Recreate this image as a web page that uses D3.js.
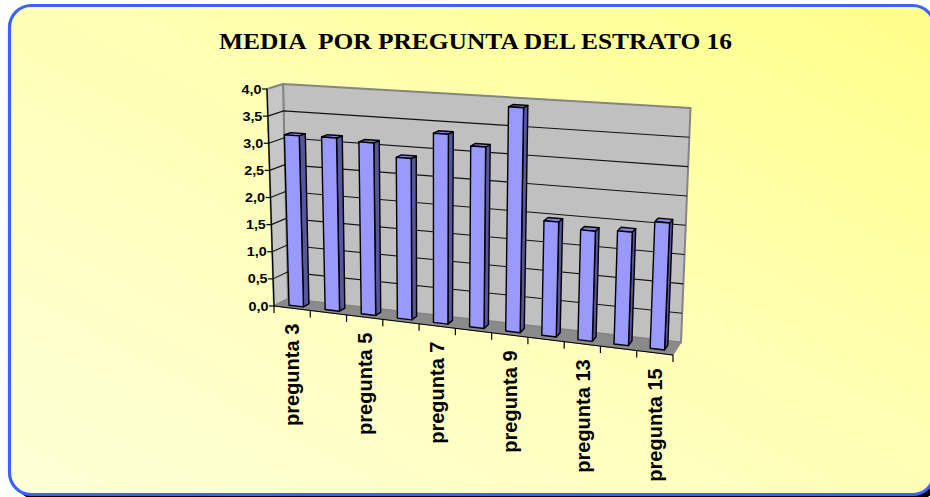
<!DOCTYPE html>
<html>
<head>
<meta charset="utf-8">
<script src="https://cdn.jsdelivr.net/npm/d3@7/dist/d3.min.js"></script>
<style>
  html, body { margin: 0; padding: 0; background: #ffffff; overflow: hidden; }
  svg { display: block; }
  .title { white-space: pre; }
</style>
</head>
<body>
<svg id="chart" width="930" height="497"></svg>
<script>
// Chart data
const title = "MEDIA  POR PREGUNTA DEL ESTRATO 16";
const categories = ["pregunta 3", "pregunta 4", "pregunta 5", "pregunta 6", "pregunta 7", "pregunta 8",
                    "pregunta 9", "pregunta 11", "pregunta 13", "pregunta 14", "pregunta 15"];
const values = [3.14, 3.15, 3.11, 2.88, 3.36, 3.18, 3.91, 1.98, 1.88, 1.92, 2.13];
const yTicks = [0, 0.5, 1, 1.5, 2, 2.5, 3, 3.5, 4];
const shownLabels = ["pregunta 3", "pregunta 5", "pregunta 7", "pregunta 9", "pregunta 13", "pregunta 15"];

const svg = d3.select("#chart");

// Background panel with drop shadow
const defs = svg.append("defs");
const grad = defs.append("linearGradient").attr("id", "bg")
  .attr("x1", "0").attr("y1", "1").attr("x2", "1").attr("y2", "0");
grad.append("stop").attr("offset", "0").attr("stop-color", "#ffffd8");
grad.append("stop").attr("offset", "0.55").attr("stop-color", "#ffffb4");
grad.append("stop").attr("offset", "1").attr("stop-color", "#ffff8a");

svg.append("rect").attr("x", 14.5).attr("y", 10.5).attr("width", 925).attr("height", 489)
  .attr("rx", 22).attr("fill", "#000");
svg.append("rect").attr("x", 9.5).attr("y", 5.5).attr("width", 925).attr("height", 489)
  .attr("rx", 22).attr("fill", "url(#bg)").attr("stroke", "#3b62ff").attr("stroke-width", 3.2);

svg.append("text")
  .attr("class", "title")
  .attr("x", 475.5).attr("y", 48.5)
  .attr("text-anchor", "middle")
  .attr("font-family", "Liberation Serif, DejaVu Serif, serif")
  .attr("font-weight", "bold")
  .attr("font-size", 22.5)
  .attr("textLength", 513).attr("lengthAdjust", "spacingAndGlyphs")
  .attr("fill", "#000")
  .text(title);

// Plot box corners on screen: front plane (depth 0) and back plane (depth 1)
const box = {
  fBL: [274, 306], fBR: [673, 355], fTL: [267, 89], fTR: [683, 114],
  bBL: [288, 299], bBR: [681, 342.5], bTL: [283, 84], bTR: [690.5, 108]
};
const lerp = (a, b, t) => [a[0] + (b[0] - a[0]) * t, a[1] + (b[1] - a[1]) * t];
// u: along categories [0,1], t: along values [0,1], w: depth [0,1]
function project(u, t, w) {
  const front = lerp(lerp(box.fBL, box.fBR, u), lerp(box.fTL, box.fTR, u), t);
  const back = lerp(lerp(box.bBL, box.bBR, u), lerp(box.bTL, box.bTR, u), t);
  return lerp(front, back, w);
}

const x = d3.scaleBand().domain(categories).range([0, 1]).paddingInner(0.6).paddingOuter(0.3);
const y = d3.scaleLinear().domain([0, 4]).range([0, 1]);
const fmt = d3.formatLocale({ decimal: ",", thousands: ".", grouping: [3], currency: ["", "€"] }).format(".1f");

const poly = pts => "M" + pts.map(p => p[0].toFixed(2) + "," + p[1].toFixed(2)).join("L") + "Z";
const g = svg.append("g");

// Walls and floor
g.append("path").attr("d", poly([project(0, 0, 1), project(1, 0, 1), project(1, 1, 1), project(0, 1, 1)]))
  .attr("fill", "#c0c0c0").attr("stroke", "#858585").attr("stroke-width", 2).attr("stroke-linejoin", "round");
g.append("path").attr("d", poly([project(0, 0, 0), project(0, 0, 1), project(0, 1, 1), project(0, 1, 0)]))
  .attr("fill", "#c6c6c6").attr("stroke", "#858585").attr("stroke-width", 2).attr("stroke-linejoin", "round");
g.append("path").attr("d", poly([project(0, 0, 0), project(1, 0, 0), project(1, 0, 1), project(0, 0, 1)]))
  .attr("fill", "#8a8a8a").attr("stroke", "#858585").attr("stroke-width", 1);

// Gridlines on the side wall and back wall
yTicks.filter(v => v > 0 && v < 4).forEach(v => {
  const t = y(v);
  g.append("path")
    .attr("d", "M" + project(0, t, 0) + "L" + project(0, t, 1) + "L" + project(1, t, 1))
    .attr("fill", "none").attr("stroke", "#111").attr("stroke-width", 1.1);
});

// Value axis
g.append("line")
  .attr("x1", project(0, 0, 0)[0]).attr("y1", project(0, 0, 0)[1])
  .attr("x2", project(0, 1, 0)[0]).attr("y2", project(0, 1, 0)[1])
  .attr("stroke", "#000").attr("stroke-width", 1.2);
yTicks.forEach(v => {
  const p = project(0, y(v), 0);
  g.append("line").attr("x1", p[0] - 5).attr("y1", p[1]).attr("x2", p[0]).attr("y2", p[1])
    .attr("stroke", "#000").attr("stroke-width", 1.2);
  g.append("text")
    .attr("transform", `translate(${p[0] - 5.5},${p[1]}) scale(1.15,1)`)
    .attr("text-anchor", "end").attr("dy", "0.36em")
    .attr("font-family", "Liberation Sans, Arial, sans-serif")
    .attr("font-weight", "bold").attr("font-size", 12.5)
    .attr("fill", "#000")
    .text(fmt(v));
});

// Category axis along the front floor edge
g.append("line")
  .attr("x1", project(0, 0, 0)[0]).attr("y1", project(0, 0, 0)[1])
  .attr("x2", project(1, 0, 0)[0]).attr("y2", project(1, 0, 0)[1])
  .attr("stroke", "#000").attr("stroke-width", 1.2);
const step = x.step();
d3.range(categories.length + 1).forEach(i => {
  const p = project(i * step, 0, 0);
  g.append("line").attr("x1", p[0]).attr("y1", p[1]).attr("x2", p[0]).attr("y2", p[1] + 7)
    .attr("stroke", "#000").attr("stroke-width", 1.2);
});
categories.forEach(c => {
  if (!shownLabels.includes(c)) return;
  const uc = x(c) + x.bandwidth() / 2;
  const p = project(uc, 0, 0);
  g.append("text")
    .attr("transform", `translate(${p[0]},${p[1] + 15.5}) rotate(-90)`)
    .attr("text-anchor", "end").attr("dy", "0.36em")
    .attr("font-family", "Liberation Sans, Arial, sans-serif")
    .attr("font-weight", "bold").attr("font-size", 20)
    .attr("fill", "#000")
    .text(c);
});

// Bars
const w0 = 0.3, w1 = 0.7;
const bars = g.append("g");
categories.forEach((c, i) => {
  const u0 = x(c), u1 = x(c) + x.bandwidth(), t = y(values[i]);
  const b = bars.append("g").attr("stroke", "#000").attr("stroke-width", 1.4).attr("stroke-linejoin", "round");
  b.append("path").attr("d", poly([project(u1, 0, w0), project(u1, 0, w1), project(u1, t, w1), project(u1, t, w0)]))
    .attr("fill", "#56569c");
  b.append("path").attr("d", poly([project(u0, t, w0), project(u1, t, w0), project(u1, t, w1), project(u0, t, w1)]))
    .attr("fill", "#7f7fdc");
  b.append("path").attr("d", poly([project(u0, 0, w0), project(u1, 0, w0), project(u1, t, w0), project(u0, t, w0)]))
    .attr("fill", "#9999ff");
});
</script>
</body>
</html>
